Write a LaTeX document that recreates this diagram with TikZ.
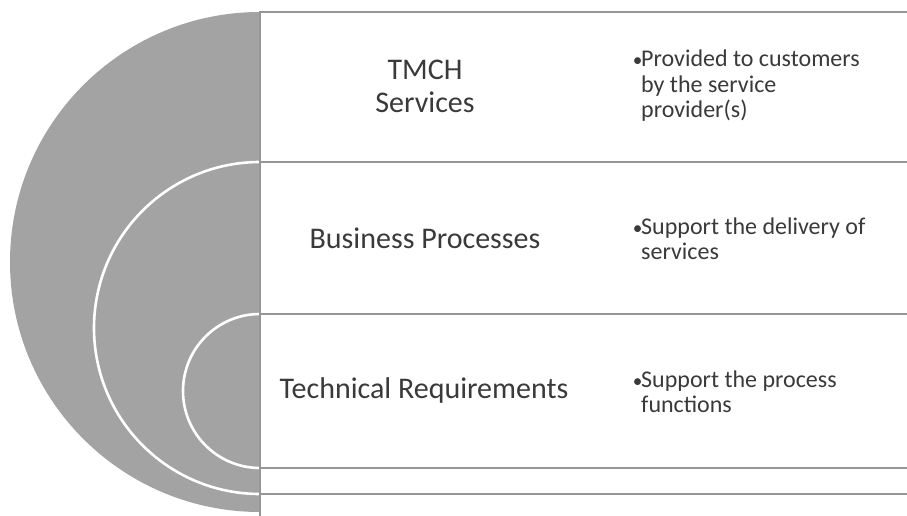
\documentclass[tikz,border=0pt]{standalone}
\usepackage{fontspec}
\setmainfont{Carlito}
\definecolor{discgray}{RGB}{163,163,163}
\definecolor{linegray}{RGB}{150,150,150}
\definecolor{textgray}{RGB}{58,58,58}
\newcommand{\bul}{\makebox[7pt][c]{\scalebox{0.8}{\textbullet}}}
\newcommand{\bulindent}{\hspace*{7pt}}
\tikzset{
  rowline/.style={draw=linegray,line width=1.3pt,fill=white},
  arcline/.style={white,line width=2.6pt},
  mainlabel/.style={text=textgray,align=center,font=\fontsize{30}{33}\selectfont},
  bulletlabel/.style={text=textgray,align=left,anchor=west,inner sep=0pt,font=\fontsize{24}{25.5}\selectfont}
}
\begin{document}
\begin{tikzpicture}[x=1pt,y=-1pt]
  \useasboundingbox (0,0) rectangle (907,516);
  % grey half disc and the two white arcs
  \fill[discgray] (260,12) arc[start angle=270,end angle=90,radius=250] -- cycle;
  \draw[arcline] (260,162) arc[start angle=270,end angle=90,radius=166];
  \draw[arcline] (260,314) arc[start angle=270,end angle=90,radius=77];
  % rows
  \draw[rowline] (260,12) rectangle (915,162);
  \draw[rowline] (260,162) rectangle (915,314);
  \draw[rowline] (260,314) rectangle (915,468);
  \draw[rowline] (260,468) rectangle (915,494);
  \draw[rowline] (260,494) rectangle (915,525);
  % labels
  \node[mainlabel] (tmch) at (425,86) {TMCH\\Services};
  \node[mainlabel] (business) at (425,238) {Business Processes};
  \node[mainlabel] (technical) at (424,390) {Technical Requirements};
  \node[bulletlabel] (provided) at (634,86) {\bul Provided to customers\\\bulindent by the service\\\bulindent provider(s)};
  \node[bulletlabel] (delivery) at (634,239) {\bul Support the delivery of\\\bulindent services};
  \node[bulletlabel] (process) at (634,392) {\bul Support the process\\\bulindent functions};
\end{tikzpicture}
\end{document}
